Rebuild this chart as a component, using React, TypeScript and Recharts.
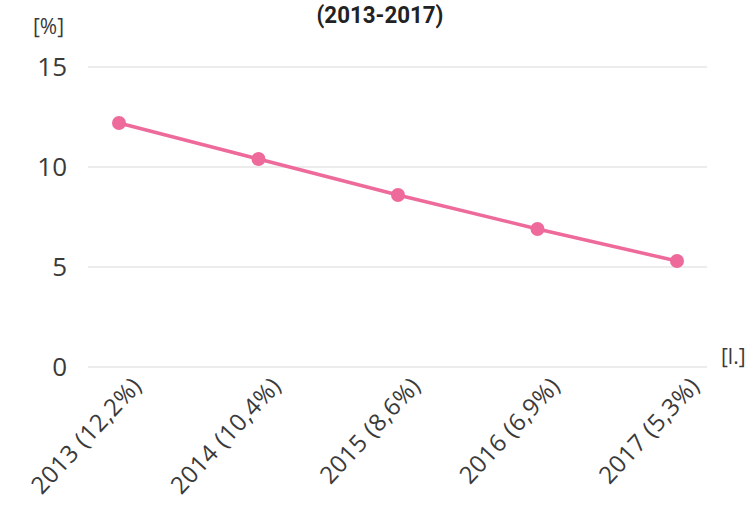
import React from "react";
import { LineChart, Line, XAxis, YAxis, CartesianGrid } from "recharts";

const years = ["2013", "2014", "2015", "2016", "2017"];
const rates = [12.2, 10.4, 8.6, 6.9, 5.3];
const rateLabels = ["12,2%", "10,4%", "8,6%", "6,9%", "5,3%"];
const yTicks = [0, 5, 10, 15];

const chartData = years.map((year, i) => ({
  label: `${year} (${rateLabels[i]})`,
  rate: rates[i],
}));

const PINK = "#ee6a9b";
const TEXT = "#3a3a3a";

const RotatedTick = (props: any) => {
  const { x, y, payload } = props;
  return (
    <g transform={`translate(${x + 24},${y + 12})`}>
      <text
        x={0}
        y={0}
        textAnchor="end"
        transform="rotate(-47)"
        fill={TEXT}
        fontSize={24}
        letterSpacing={0.5}
        fontFamily="'Open Sans', sans-serif"
      >
        {payload.value}
      </text>
    </g>
  );
};

export default function App() {
  return (
    <div
      style={{
        position: "absolute",
        left: 0,
        top: 0,
        width: 752,
        height: 510,
        background: "#ffffff",
        fontFamily: "Roboto, sans-serif",
      }}
    >
      <div
        style={{
          position: "absolute",
          left: 0,
          width: 760,
          top: 0,
          lineHeight: "30px",
          textAlign: "center",
          fontWeight: 700,
          fontSize: 24,
          color: "#222",
          fontFamily: "Roboto, sans-serif",
          transform: "scaleX(0.93)",
        }}
      >
        (2013-2017)
      </div>
      <div
        style={{
          position: "absolute",
          left: 33,
          top: 12,
          fontSize: 21,
          color: TEXT,
          fontFamily: "'Open Sans', sans-serif",
        }}
      >
        [%]
      </div>
      <div
        style={{
          position: "absolute",
          left: 721,
          top: 342,
          fontSize: 21,
          color: TEXT,
          fontFamily: "'Open Sans', sans-serif",
        }}
      >
        [l.]
      </div>
      <LineChart
        width={752}
        height={510}
        data={chartData}
        margin={{ top: 67, right: 45, bottom: 0, left: 0 }}
      >
        <CartesianGrid vertical={false} stroke="#e6e6e6" strokeWidth={1.5} />
        <XAxis
          dataKey="label"
          axisLine={false}
          tickLine={false}
          interval={0}
          height={143}
          padding={{ left: 31, right: 30 }}
          tick={<RotatedTick />}
        />
        <YAxis
          domain={[0, 15]}
          ticks={yTicks}
          width={88}
          axisLine={false}
          tickLine={false}
          tick={{ fill: TEXT, fontSize: 26, fontFamily: "'Open Sans', sans-serif" }}
          tickMargin={15}
        />
        <Line
          type="linear"
          dataKey="rate"
          stroke={PINK}
          strokeWidth={3.5}
          dot={{ r: 7, fill: PINK, stroke: PINK, strokeWidth: 0 }}
          isAnimationActive={false}
        />
      </LineChart>
    </div>
  );
}
